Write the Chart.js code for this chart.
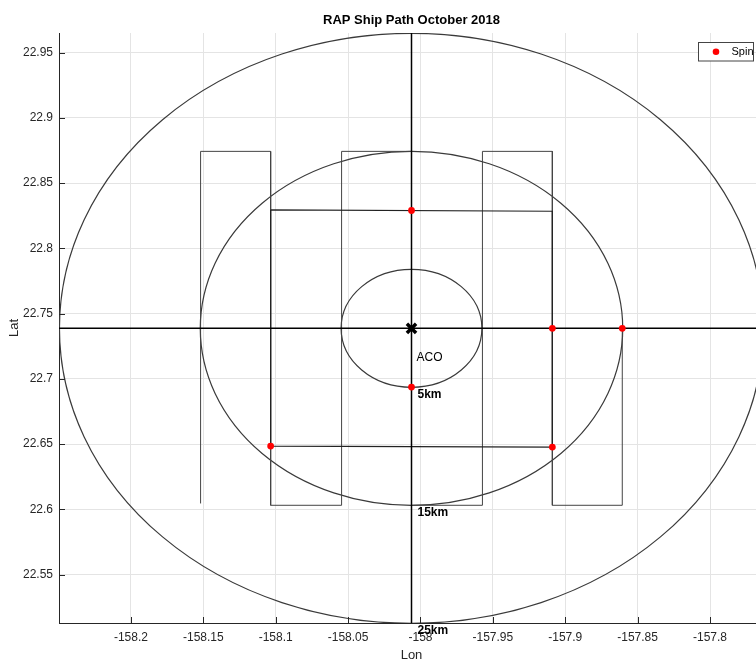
<!DOCTYPE html>
<html>
<head>
<meta charset="utf-8">
<script src="https://cdn.jsdelivr.net/npm/chart.js@4/dist/chart.umd.min.js"></script>
<style>
  html, body { margin: 0; padding: 0; background: #fff; overflow: hidden; width: 756px; height: 660px; }
  #wrap { position: relative; width: 770px; height: 660px; }
</style>
</head>
<body>
<div id="wrap"><canvas id="c" width="770" height="660"></canvas></div>
<script>
// ACO (ALOHA Cabled Observatory) reference position
const acoLon = -158.0062;
const acoLat = 22.7387;

// degree scale factors at this latitude (km per degree)
const kmPerDegLon = 102.8;
const kmPerDegLat = 110.6;

// range rings around ACO
const ringKm = [5, 15, 25];
const ringLabels = ['5km', '15km', '25km'];

// lawnmower survey track
const pathLon = [-158.1519, -158.1519, -158.1035, -158.1035, -158.0545, -158.0545, -158.0062,
                 -158.0062, -157.9572, -157.9572, -157.9089, -157.9089, -157.8606, -157.8606];
const pathLat = [22.6045, 22.8743, 22.8743, 22.6031, 22.6031, 22.8743, 22.8743,
                 22.6031, 22.6031, 22.8743, 22.8743, 22.6031, 22.6031, 22.7387];

// square leg
const boxLon = [-158.1035, -157.9089, -157.9089, -158.1035, -158.1035];
const boxLat = [22.8294, 22.8284, 22.6477, 22.6485, 22.8294];

// spin stations
const spinLon = [-158.0062, -157.9089, -157.8606, -158.0062, -158.1035, -157.9089];
const spinLat = [22.8290, 22.7387, 22.7387, 22.6937, 22.6485, 22.6477];

// axis limits and ticks
const lonMin = -158.2497, lonMax = -157.7627;
const latMin = 22.5129, latMax = 22.9650;
const lonTicks = [-158.2, -158.15, -158.1, -158.05, -158, -157.95, -157.9, -157.85, -157.8];
const lonTickLabels = ['-158.2', '-158.15', '-158.1', '-158.05', '-158', '-157.95', '-157.9', '-157.85', '-157.8'];
const latTicks = [22.55, 22.6, 22.65, 22.7, 22.75, 22.8, 22.85, 22.9, 22.95];
const latTickLabels = ['22.55', '22.6', '22.65', '22.7', '22.75', '22.8', '22.85', '22.9', '22.95'];

const FONT = '"Liberation Sans", Arial, Helvetica, sans-serif';
const AXIS_COLOR = '#262626';

const pts = (xs, ys) => xs.map((x, i) => ({ x: x, y: ys[i] }));

const overlay = {
  id: 'overlay',
  beforeDatasetsDraw(chart) {
    const { ctx, chartArea: a, scales: { x, y } } = chart;
    const cx = x.getPixelForValue(acoLon);
    const cy = y.getPixelForValue(acoLat);
    ctx.save();
    ctx.beginPath();
    ctx.rect(a.left, a.top, a.right - a.left, a.bottom - a.top);
    ctx.clip();
    ctx.strokeStyle = '#3a3a3a';
    ctx.lineWidth = 1.2;
    ringKm.forEach(r => {
      const rx = Math.abs(x.getPixelForValue(acoLon + r / kmPerDegLon) - cx);
      const ry = Math.abs(y.getPixelForValue(acoLat - r / kmPerDegLat) - cy);
      ctx.beginPath();
      ctx.ellipse(cx, cy, rx, ry, 0, 0, Math.PI * 2);
      ctx.stroke();
    });
    ctx.restore();
  },
  afterDraw(chart) {
    const { ctx, chartArea: a, scales: { x, y } } = chart;
    const cx = x.getPixelForValue(acoLon);
    const cy = y.getPixelForValue(acoLat);
    ctx.save();

    // inward tick marks
    ctx.strokeStyle = AXIS_COLOR;
    ctx.lineWidth = 1;
    ctx.beginPath();
    lonTicks.forEach(v => {
      const px = Math.round(x.getPixelForValue(v)) + 0.5;
      ctx.moveTo(px, a.bottom);
      ctx.lineTo(px, a.bottom - 6);
    });
    latTicks.forEach(v => {
      const py = Math.round(y.getPixelForValue(v)) + 0.5;
      ctx.moveTo(a.left, py);
      ctx.lineTo(a.left + 6, py);
    });
    ctx.stroke();

    // title
    const midX = (a.left + a.right) / 2;
    ctx.fillStyle = '#000';
    ctx.textAlign = 'center';
    ctx.textBaseline = 'middle';
    ctx.font = 'bold 13px ' + FONT;
    ctx.fillText('RAP Ship Path October 2018', midX, 20.5);

    // axis titles
    ctx.fillStyle = AXIS_COLOR;
    ctx.font = '13px ' + FONT;
    ctx.fillText('Lon', midX, 655);
    ctx.save();
    ctx.translate(14.5, (a.top + a.bottom) / 2);
    ctx.rotate(-Math.PI / 2);
    ctx.fillText('Lat', 0, 0);
    ctx.restore();

    // ring and site labels
    ctx.fillStyle = '#000';
    ctx.textAlign = 'left';
    ctx.font = '12px ' + FONT;
    ctx.fillText('ACO', cx + 5, cy + 29);
    ctx.font = 'bold 12px ' + FONT;
    ringKm.forEach((r, i) => {
      const py = y.getPixelForValue(acoLat - r / kmPerDegLat);
      ctx.fillText(ringLabels[i], cx + 6, py + 7);
    });

    // legend
    const bw = 55, bh = 18.5;
    const bx = Math.round(a.right - 11 - bw) + 0.5;
    const by = Math.round(a.top + 9) + 0.5;
    ctx.fillStyle = '#fff';
    ctx.fillRect(bx, by, bw, bh);
    ctx.strokeStyle = '#444';
    ctx.lineWidth = 1;
    ctx.strokeRect(bx, by, bw, bh);
    ctx.fillStyle = '#ff0000';
    ctx.beginPath();
    ctx.arc(bx + 17.5, by + bh / 2, 3.3, 0, Math.PI * 2);
    ctx.fill();
    ctx.fillStyle = '#000';
    ctx.font = '11px ' + FONT;
    ctx.textBaseline = 'middle';
    ctx.fillText('Spin', bx + 33, by + bh / 2 + 0.5);

    ctx.restore();
  }
};

new Chart(document.getElementById('c').getContext('2d'), {
  type: 'scatter',
  data: {
    datasets: [
      {
        label: 'Spin',
        data: pts(spinLon, spinLat),
        pointStyle: 'circle',
        pointRadius: 3.4,
        pointBackgroundColor: '#ff0000',
        pointBorderColor: '#ff0000',
        pointBorderWidth: 0,
        showLine: false
      },
      {
        label: 'ACO',
        data: [{ x: acoLon, y: acoLat }],
        pointStyle: 'crossRot',
        pointRadius: 6.5,
        pointBorderColor: '#000',
        pointBorderWidth: 3.5,
        showLine: false
      },
      {
        label: 'lat line',
        data: pts([lonMin, lonMax], [acoLat, acoLat]),
        showLine: true,
        borderColor: '#000',
        borderWidth: 1.5,
        pointRadius: 0
      },
      {
        label: 'lon line',
        data: pts([acoLon, acoLon], [latMin, latMax]),
        showLine: true,
        borderColor: '#000',
        borderWidth: 1.5,
        pointRadius: 0
      },
      {
        label: 'square',
        data: pts(boxLon, boxLat),
        showLine: true,
        borderColor: '#222',
        borderWidth: 1.2,
        pointRadius: 0,
        tension: 0
      },
      {
        label: 'track',
        data: pts(pathLon, pathLat),
        showLine: true,
        borderColor: '#444',
        borderWidth: 1,
        pointRadius: 0,
        tension: 0
      }
    ]
  },
  options: {
    responsive: false,
    animation: false,
    devicePixelRatio: 1,
    layout: { autoPadding: false, padding: { top: 33, right: 6, left: 0, bottom: 0 } },
    plugins: {
      legend: { display: false },
      title: { display: false },
      tooltip: { enabled: false }
    },
    scales: {
      x: {
        type: 'linear',
        min: lonMin,
        max: lonMax,
        afterBuildTicks: s => { s.ticks = lonTicks.map(v => ({ value: v })); },
        afterFit: s => { s.height = 37; s.paddingLeft = 0; s.paddingRight = 0; },
        ticks: {
          callback: (v, i) => lonTickLabels[i],
          autoSkip: false,
          maxRotation: 0,
          padding: 7,
          color: AXIS_COLOR,
          font: { family: FONT, size: 12 }
        },
        grid: { color: '#e4e4e4', lineWidth: 1, drawTicks: false },
        border: { color: AXIS_COLOR, width: 1 }
      },
      y: {
        type: 'linear',
        min: latMin,
        max: latMax,
        afterBuildTicks: s => { s.ticks = latTicks.map(v => ({ value: v })); },
        afterFit: s => { s.width = 59; s.paddingTop = 0; s.paddingBottom = 0; },
        ticks: {
          callback: (v, i) => latTickLabels[i],
          autoSkip: false,
          padding: 6,
          color: AXIS_COLOR,
          font: { family: FONT, size: 12 }
        },
        grid: { color: '#e4e4e4', lineWidth: 1, drawTicks: false },
        border: { color: AXIS_COLOR, width: 1 }
      }
    }
  },
  plugins: [overlay]
});
</script>
</body>
</html>
